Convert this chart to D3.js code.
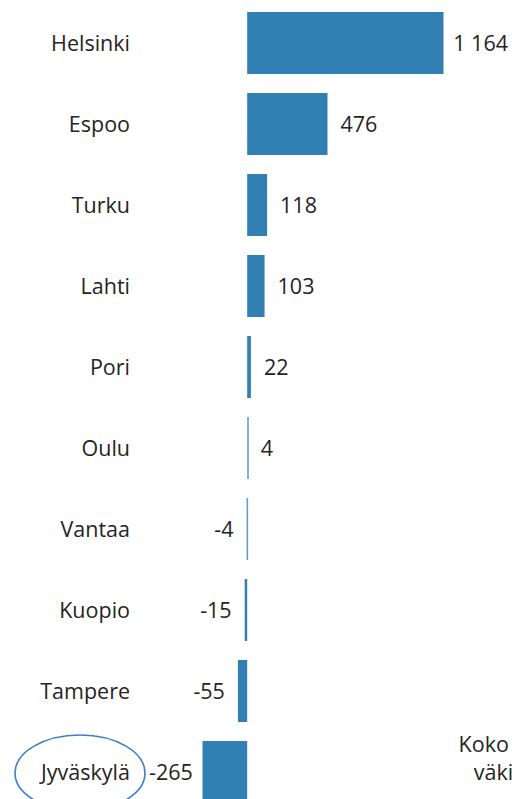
<!DOCTYPE html>
<html>
<head>
<meta charset="utf-8">
<script src="https://cdn.jsdelivr.net/npm/d3@7"></script>
<style>
  html, body { margin: 0; padding: 0; background: #fff; overflow: hidden; }
  svg { display: block; }
  text { font-family: "Open Sans", "Noto Sans", sans-serif; fill: #252423; }
</style>
</head>
<body>
<script>
// Kuntien väkiluvun muutos
const cities = ["Helsinki", "Espoo", "Turku", "Lahti", "Pori", "Oulu", "Vantaa", "Kuopio", "Tampere", "Jyväskylä"];
const changes = [1164, 476, 118, 103, 22, 4, -4, -15, -55, -265];
const highlighted = ["Jyväskylä"];
const noteLines = ["Koko maan", "väkiluku"];

const W = 512, H = 799;
const barColor = "#327fb3";
const fontSize = 21.5;

const svg = d3.select("body").append("svg")
  .attr("width", W).attr("height", H);

const rows = cities.map((c, i) => ({ city: c, value: changes[i] }));

const y = d3.scaleBand()
  .domain(cities)
  .range([2.5, 812.5])
  .paddingInner(0.2346)
  .paddingOuter(0.1173);

const x = d3.scaleLinear()
  .domain([d3.min(changes), d3.max(changes)])
  .range([202.5, 443.5]);

const fmt = v => (v < 0 ? "-" : "") + d3.format(",")(Math.abs(v)).replace(/,/g, " ");

// bars (tiny values kept visible as a thin line)
svg.append("g").selectAll("rect")
  .data(rows)
  .join("rect")
  .attr("x", d => Math.min(x(0), x(d.value)))
  .attr("y", d => y(d.city))
  .attr("width", d => Math.max(1.6, Math.abs(x(d.value) - x(0))))
  .attr("height", y.bandwidth())
  .attr("fill", barColor)
  .attr("fill-opacity", d => Math.abs(x(d.value) - x(0)) < 1.6 ? 0.75 : 1);

// category labels
const labelRight = 130;
svg.append("g").selectAll("text")
  .data(rows)
  .join("text")
  .attr("x", labelRight)
  .attr("y", d => y(d.city) + y.bandwidth() / 2)
  .attr("dy", "0.35em")
  .attr("text-anchor", "end")
  .attr("font-size", fontSize)
  .text(d => d.city);

// value labels, kept inside the canvas and clear of the category column
const gap = 13;
const vals = svg.append("g").selectAll("text")
  .data(rows)
  .join("text")
  .attr("y", d => y(d.city) + y.bandwidth() / 2)
  .attr("dy", "0.35em")
  .attr("font-size", fontSize)
  .text(d => fmt(d.value));

vals.each(function(d) {
  const t = d3.select(this);
  const w = this.getComputedTextLength();
  if (d.value >= 0) {
    const xs = Math.min(x(d.value) + gap, W - 4 - w);
    t.attr("x", xs).attr("text-anchor", "start");
  } else {
    const xe = Math.max(x(d.value) - gap, labelRight + 19 + w);
    t.attr("x", xe).attr("text-anchor", "end");
  }
});

// highlight ring around a city name
highlighted.forEach(c => {
  svg.append("ellipse")
    .attr("cx", 80)
    .attr("cy", y(c) + y.bandwidth() / 2 + 1)
    .attr("rx", 65)
    .attr("ry", 38)
    .attr("fill", "none")
    .attr("stroke", "#3d80c0")
    .attr("stroke-width", 1.6);
});

// note at lower right, running past the edge of the canvas
svg.append("text")
  .attr("x", 515)
  .attr("y", 752)
  .attr("text-anchor", "middle")
  .attr("font-size", fontSize)
  .selectAll("tspan")
  .data(noteLines)
  .join("tspan")
  .attr("x", 515)
  .attr("dy", (d, i) => i === 0 ? 0 : 28)
  .text(d => d);
</script>
</body>
</html>
